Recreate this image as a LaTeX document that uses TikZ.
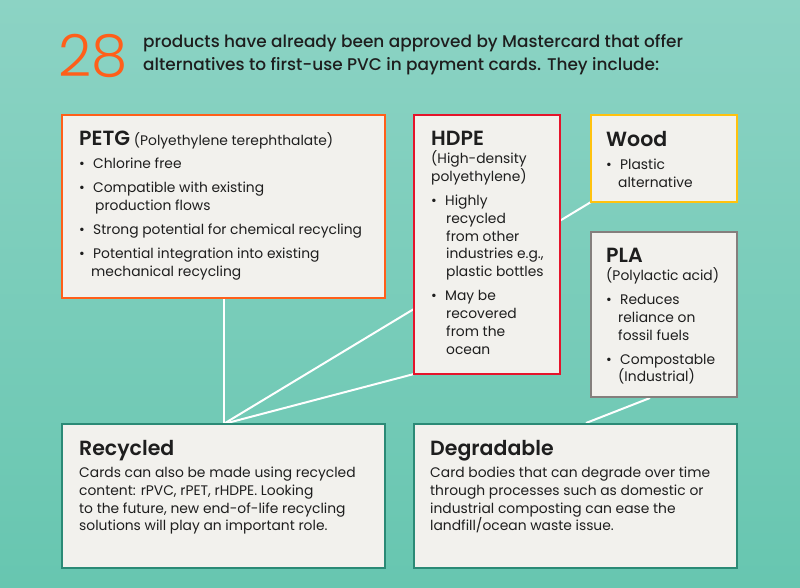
\documentclass[tikz,border=0pt]{standalone}
\usepackage{fontspec}
\setmainfont{Poppins}[BoldFont={Poppins SemiBold}]
\newfontfamily\medfont{Poppins Medium}
\newfontfamily\thinfont{Poppins Light}
\usetikzlibrary{positioning}
\pgfdeclarelayer{bg}
\pgfsetlayers{bg,main}
\definecolor{bgtop}{HTML}{8CD3C4}
\definecolor{bgbot}{HTML}{67C6B0}
\definecolor{paper}{HTML}{F2F1ED}
\definecolor{petgcol}{HTML}{FF5F1A}
\definecolor{hdpecol}{HTML}{E5142B}
\definecolor{woodcol}{HTML}{FFC20E}
\definecolor{placol}{HTML}{857F7D}
\definecolor{groupcol}{HTML}{2B8A76}
\definecolor{inkcol}{HTML}{1E1E1E}
\tikzset{
  card/.style = {draw, line width = 2.4pt, fill = paper, inner sep = 0pt, outer sep = 0pt},
  txt/.style = {anchor = north west, inner sep = 0pt, align = left, text = inkcol,
    font = \fontsize{13.85}{17.9}\selectfont},
  link/.style = {draw = white, line width = 2pt}
}
\newcommand{\hd}[1]{{\fontsize{20.5}{22}\selectfont\bfseries #1}}
\newcommand{\bu}{\makebox[14pt][l]{\textbullet}}
\begin{document}
\begin{tikzpicture}[x = 1pt, y = -1pt]
\useasboundingbox (0, 0) rectangle (800, 588);

\node[txt, text = petgcol, font = \fontsize{58}{60}\thinfont] (num) at (58, 34) {28};
\node[txt, font = \fontsize{16.9}{23.5}\medfont] (head) at (143, 34) {products have already been approved by Mastercard that offer\\alternatives to first-use PVC in payment cards. They include:};

\node[card, draw = petgcol, minimum width = 323pt, minimum height = 183pt] (petg) at (223.5, 206.5) {};
\node[card, draw = hdpecol, minimum width = 146pt, minimum height = 259pt] (hdpe) at (487, 244.5) {};
\node[card, draw = woodcol, minimum width = 146pt, minimum height = 87pt] (wood) at (664, 158.5) {};
\node[card, draw = placol, minimum width = 146pt, minimum height = 165pt] (pla) at (664, 314.5) {};
\node[card, draw = groupcol, minimum width = 323pt, minimum height = 144pt] (recycled) at (223.5, 496) {};
\node[card, draw = groupcol, minimum width = 323pt, minimum height = 144pt] (degradable) at (575.5, 496) {};

\coordinate (plafoot) at (650, 398);
\coordinate (degfoot) at (586, 423);

\begin{pgfonlayer}{bg}
\shade[top color = bgtop, bottom color = bgbot] (0, 0) rectangle (800, 588);
\draw[link] (petg.south) -- (recycled.north);
\draw[link] (wood.south west) -- (recycled.north);
\draw[link] (hdpe.south west) -- (recycled.north);
\draw[link] (plafoot) -- (degfoot);
\end{pgfonlayer}

\node[txt] (petgtxt) at (79, 131) {\hd{PETG} (Polyethylene terephthalate)\\[5pt]
\bu Chlorine free\\[6pt]
\bu Compatible with existing\\
\hspace*{16pt}production flows\\[6pt]
\bu Strong potential for chemical recycling\\[6pt]
\bu Potential integration into existing\\
\hspace*{12pt}mechanical recycling};

\node[txt] (hdpetxt) at (431, 131) {\hd{HDPE}\\
(High-density\\
polyethylene)\\[6pt]
\bu Highly\\
\hspace*{15pt}recycled\\
\hspace*{15pt}from other\\
\hspace*{15pt}industries e.g.,\\
\hspace*{15pt}plastic bottles\\[6pt]
\bu May be\\
\hspace*{15pt}recovered\\
\hspace*{15pt}from the\\
\hspace*{15pt}ocean};

\node[txt] (woodtxt) at (606, 131) {\hd{Wood}\\[5pt]
\bu Plastic\\
\hspace*{12pt}alternative};

\node[txt] (platxt) at (606, 248) {\hd{PLA}\\
(Polylactic acid)\\[6pt]
\bu Reduces\\
\hspace*{12pt}reliance on\\
\hspace*{12pt}fossil fuels\\[6pt]
\bu Compostable\\
\hspace*{12pt}(Industrial)};

\node[txt] (recycledtxt) at (79, 440) {\hd{Recycled}\\[4pt]
Cards can also be made using recycled\\
content: rPVC, rPET, rHDPE. Looking\\
to the future, new end-of-life recycling\\
solutions will play an important role.};

\node[txt] (degradabletxt) at (430, 440) {\hd{Degradable}\\[4pt]
Card bodies that can degrade over time\\
through processes such as domestic or\\
industrial composting can ease the\\
landfill/ocean waste issue.};

\end{tikzpicture}
\end{document}
